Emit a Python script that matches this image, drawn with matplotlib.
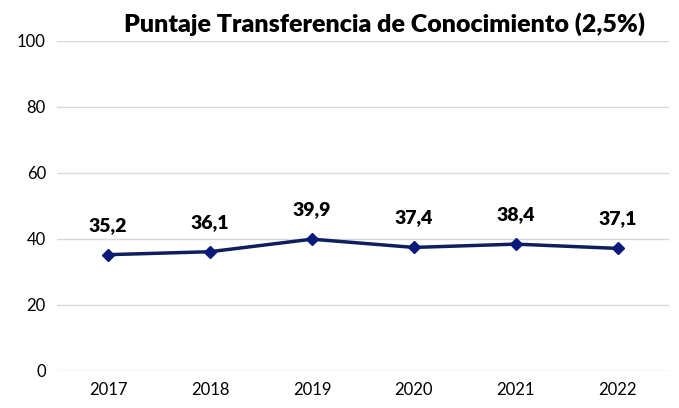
import matplotlib.pyplot as plt

years = ['2017', '2018', '2019', '2020', '2021', '2022']
scores = [35.2, 36.1, 39.9, 37.4, 38.4, 37.1]
labels = ['35,2', '36,1', '39,9', '37,4', '38,4', '37,1']

plt.rcParams['font.family'] = ['Lato', 'DejaVu Sans']

fig = plt.figure(figsize=(6.79, 4.08), dpi=100)
ax = fig.add_axes([0.084, 0.091, 0.901, 0.809])

x = range(len(years))
ax.plot(x, scores, color='#0d1f5c', linewidth=2.5, marker='D', markersize=6.5,
        markerfacecolor='#0a1a7a', markeredgecolor='#0a1a7a', zorder=3)
for xi, yi, lab in zip(x, scores, labels):
    ax.annotate(lab, (xi, yi), xytext=(0, 15), textcoords='offset points',
                ha='center', va='bottom', fontsize=14, fontweight='heavy')

ax.set_xlim(-0.5, len(years) - 0.5)
ax.set_ylim(0, 100)
ax.set_yticks([0, 20, 40, 60, 80, 100])
ax.set_xticks(list(x))
ax.set_xticklabels(years)
ax.grid(axis='y', color='#d9d9d9', linewidth=1)
ax.set_axisbelow(True)
for s in ax.spines.values():
    s.set_visible(False)
ax.tick_params(length=0, labelsize=12, pad=8)

fig.text(0.567, 0.942, 'Puntaje Transferencia de Conocimiento (2,5%)',
         ha='center', va='center', fontsize=18, fontweight='heavy')

fig.savefig('out.png', dpi=100)
